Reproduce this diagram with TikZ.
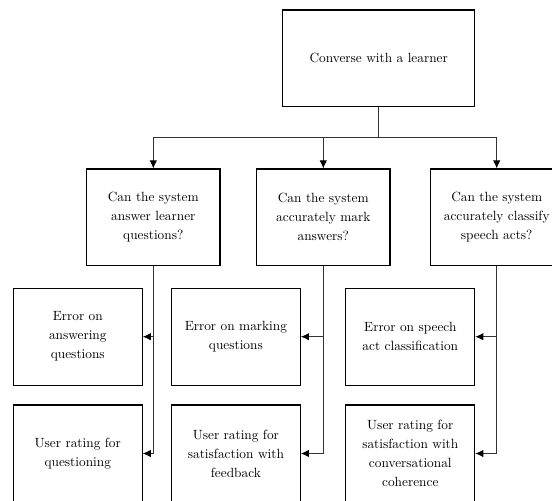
\documentclass[tikz,border=0pt]{standalone}
\usetikzlibrary{arrows.meta}
\begin{document}
\begin{tikzpicture}[x=0.75pt,y=-0.75pt,
  box/.style={draw=black,line width=0.8pt,align=center,inner sep=2pt,
    font=\fontsize{10}{14.25}\selectfont},
  topbox/.style={box,minimum width=143.7pt,minimum height=72.5pt},
  qbox/.style={box,minimum width=100pt,minimum height=72.5pt},
  mbox/.style={box,minimum width=96.75pt,minimum height=72.75pt},
  link/.style={draw=black!80,line width=0.55pt},
  arr/.style={link,-{Latex[length=6pt,width=5.5pt,color=black]}}]
  \useasboundingbox (0,0) rectangle (552,500);
  \clip (0,0) rectangle (552,500);

  % root
  \node[topbox] (root) at (378.7,58.3) {Converse with a learner};

  % question boxes
  \node[qbox] (q1) at (153.3,217.3) {Can the system\\answer learner\\questions?};
  \node[qbox] (q2) at (323.3,217.3) {Can the system\\accurately mark\\answers?};
  \node[qbox] (q3) at (496.7,217.3) {Can the system\\accurately classify\\speech acts?};

  % measures
  \node[mbox] (e1) at (77.8,336.7) {Error on\\answering\\questions};
  \node[mbox] (e2) at (235.9,336.7) {Error on marking\\questions};
  \node[mbox] (e3) at (410.3,336.7) {Error on speech\\act classification};

  \node[mbox] (u1) at (77.8,453.5) {User rating for\\questioning};
  \node[mbox] (u2) at (235.9,453.5) {User rating for\\satisfaction with\\feedback};
  \node[mbox] (u3) at (410.3,453.5) {User rating for\\satisfaction with\\conversational\\coherence};

  % root to questions
  \coordinate (j) at (378.7,137.5);
  \draw[link] (root.south) -- (j);
  \draw[arr] (j) -| (q1.north);
  \draw[arr] (j) -| (q2.north);
  \draw[arr] (j) -| (q3.north);

  % questions to measures
  \draw[arr] (q1.south) |- (e1.east);
  \draw[arr] (q1.south) |- (u1.east);
  \draw[arr] (q2.south) |- (e2.east);
  \draw[arr] (q2.south) |- (u2.east);
  \draw[arr] (q3.south) |- (e3.east);
  \draw[arr] (q3.south) |- (u3.east);
\end{tikzpicture}
\end{document}
